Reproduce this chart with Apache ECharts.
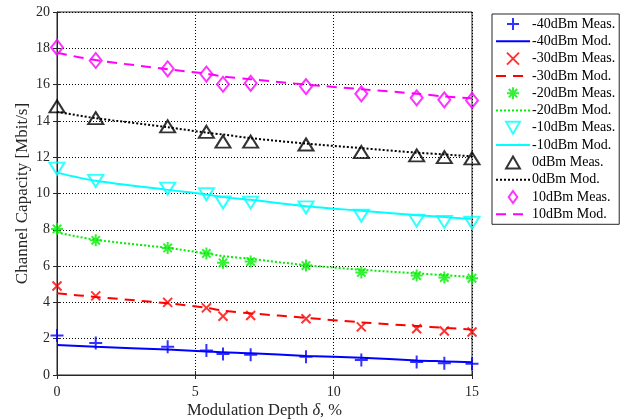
<!DOCTYPE html>
<html><head><meta charset="utf-8">
<script src="https://cdn.jsdelivr.net/npm/echarts@6/dist/echarts.min.js"></script>
<style>html,body{margin:0;padding:0;background:#fff}#c{width:624px;height:420px}</style>
</head><body><div id="c"></div>
<script>
// x positions (modulation depth, %)
var depth = [0, 1.4, 4, 5.4, 6, 7, 9, 11, 13, 14, 15];
// measured values
var meas40 = [2.18, 1.76, 1.56, 1.35, 1.16, 1.12, 1.0, 0.83, 0.72, 0.65, 0.62];
var meas30 = [4.9, 4.36, 4.0, 3.7, 3.24, 3.28, 3.1, 2.65, 2.55, 2.42, 2.37];
var meas20 = [8.05, 7.42, 7.0, 6.7, 6.18, 6.25, 6.03, 5.65, 5.48, 5.37, 5.33];
var meas10 = [11.37, 10.69, 10.27, 9.96, 9.51, 9.5, 9.23, 8.78, 8.51, 8.44, 8.4];
var meas0 = [14.8, 14.15, 13.7, 13.4, 12.86, 12.86, 12.7, 12.28, 12.1, 12.0, 11.93];
var measP10 = [18.05, 17.33, 16.87, 16.58, 16.02, 16.07, 15.89, 15.49, 15.27, 15.16, 15.13];
// model values
var mod40 = [1.65, 1.55, 1.4, 1.3, 1.25, 1.2, 1.05, 0.95, 0.8, 0.75, 0.7];
var mod30 = [4.5, 4.3, 3.95, 3.7, 3.55, 3.4, 3.15, 2.9, 2.7, 2.6, 2.5];
var mod20 = [7.85, 7.45, 7.0, 6.7, 6.55, 6.4, 6.05, 5.8, 5.6, 5.5, 5.4];
var mod10 = [11.15, 10.7, 10.2, 9.95, 9.8, 9.65, 9.3, 9.05, 8.8, 8.7, 8.6];
var mod0 = [14.5, 14.15, 13.65, 13.35, 13.25, 13.05, 12.75, 12.5, 12.25, 12.15, 12.05];
var modP10 = [17.75, 17.35, 16.85, 16.6, 16.45, 16.3, 16.0, 15.75, 15.5, 15.35, 15.25];
var xTicks = [0, 5, 10, 15];
var yTicks = [0, 2, 4, 6, 8, 10, 12, 14, 16, 18, 20];

var FONT = 'Liberation Serif';
function pairs(v){ return depth.map(function(x,i){ return [x, v[i]]; }); }

var SYM = {
  plus: 'path://M5,0L5,10M0,5L10,5',
  cross: 'path://M0,0L10,10M0,10L10,0',
  star: 'path://M5,0L5,10M0,5L10,5M1.5,1.5L8.5,8.5M1.5,8.5L8.5,1.5',
  triDown: 'path://M0,0L10,0L5,8.66Z',
  triUp: 'path://M5,0L10,8.66L0,8.66Z',
  diamond: 'path://M5,0L10,7L5,14L0,7Z'
};
function meas(name, v, color, sym, size){
  return {name:name, type:'scatter', data:pairs(v), symbol:sym, symbolSize:size,
    symbolKeepAspect:false, z:3,
    itemStyle:{color:'transparent', borderColor:color, borderWidth:2}};
}
function model(name, v, color, dash){
  return {name:name, type:'line', data:pairs(v), smooth:0.3, symbol:'none', showSymbol:false, z:2,
    itemStyle:{color:'transparent', borderWidth:0, borderColor:'transparent'},
    lineStyle:{color:color, width:2, type:dash}};
}
var series = [
  meas('-40dBm Meas.', meas40, '#0000ff', SYM.plus, 13),
  model('-40dBm Mod.', mod40, '#0000ff', 'solid'),
  meas('-30dBm Meas.', meas30, '#ff0000', SYM.cross, 9),
  model('-30dBm Mod.', mod30, '#ff0000', [10,7]),
  meas('-20dBm Meas.', meas20, '#00ee00', SYM.star, 12),
  model('-20dBm Mod.', mod20, '#00ee00', [2,2]),
  meas('-10dBm Meas.', meas10, '#00ffff', SYM.triDown, [15,12]),
  model('-10dBm Mod.', mod10, '#00ffff', 'solid'),
  meas('0dBm Meas.', meas0, '#000000', SYM.triUp, [15,12]),
  model('0dBm Mod.', mod0, '#000000', [2,2]),
  meas('10dBm Meas.', measP10, '#ff00ff', SYM.diamond, [12,15]),
  model('10dBm Mod.', modP10, '#ff00ff', [10,7])
];

var chart = echarts.init(document.getElementById('c'), null, {renderer:'canvas'});
chart.setOption({
  animation:false,
  backgroundColor:'#fff',
  textStyle:{fontFamily:FONT},
  grid:{left:57, right:152, top:12, bottom:45, show:true, borderColor:'#262626', borderWidth:1,
    containLabel:false, outerBoundsMode:'none'},
  legend:{
    orient:'vertical', left:492, top:14, itemWidth:34, itemHeight:12, itemGap:3.3,
    padding:[3,4,3,3], borderColor:'#262626', borderWidth:1, backgroundColor:'#fff',
    textStyle:{fontFamily:FONT, fontSize:14, lineHeight:14, color:'#000', padding:[0,0,0,-3]},
    data:series.map(function(s){return s.name;})
  },
  xAxis:[{
    type:'value', min:0, max:15, interval:5,
    name:'{n|Modulation Depth }{i|δ}{n|, %}', nameLocation:'middle', nameGap:27, nameMoveOverlap:false,
    nameTextStyle:{rich:{n:{fontFamily:FONT, fontSize:16.5, color:'#262626'}, i:{fontFamily:FONT, fontSize:16.5, fontStyle:'italic', color:'#262626'}}},
    axisLine:{lineStyle:{color:'#262626'}},
    axisTick:{inside:true, length:4, lineStyle:{color:'#262626'}},
    axisLabel:{fontFamily:FONT, fontSize:14, color:'#262626', margin:10,
      formatter:function(v){ return xTicks.indexOf(v)>=0 ? String(v) : ''; }},
    splitLine:{show:true, lineStyle:{color:'#000', width:1, type:[1,2]}}
  },{
    type:'value', min:0, max:15, interval:5, position:'top',
    axisLine:{show:false}, axisLabel:{show:false}, splitLine:{show:false},
    axisTick:{inside:true, length:4, lineStyle:{color:'#262626'}}
  }],
  yAxis:[{
    type:'value', min:0, max:20, interval:2,
    name:'Channel Capacity [Mbit/s]', nameLocation:'middle', nameGap:26, nameMoveOverlap:false,
    nameTextStyle:{fontFamily:FONT, fontSize:17, color:'#262626'},
    axisLine:{show:true, lineStyle:{color:'#262626'}},
    axisTick:{inside:true, length:4, lineStyle:{color:'#262626'}},
    axisLabel:{fontFamily:FONT, fontSize:14, color:'#262626', margin:7,
      formatter:function(v){ return yTicks.indexOf(v)>=0 ? String(v) : ''; }},
    splitLine:{show:true, lineStyle:{color:'#000', width:1, type:[1,2]}}
  },{
    type:'value', min:0, max:20, interval:2, position:'right',
    axisLine:{show:false}, axisLabel:{show:false}, splitLine:{show:false},
    axisTick:{inside:true, length:4, lineStyle:{color:'#262626'}}
  }],
  series:series
});
</script></body></html>
